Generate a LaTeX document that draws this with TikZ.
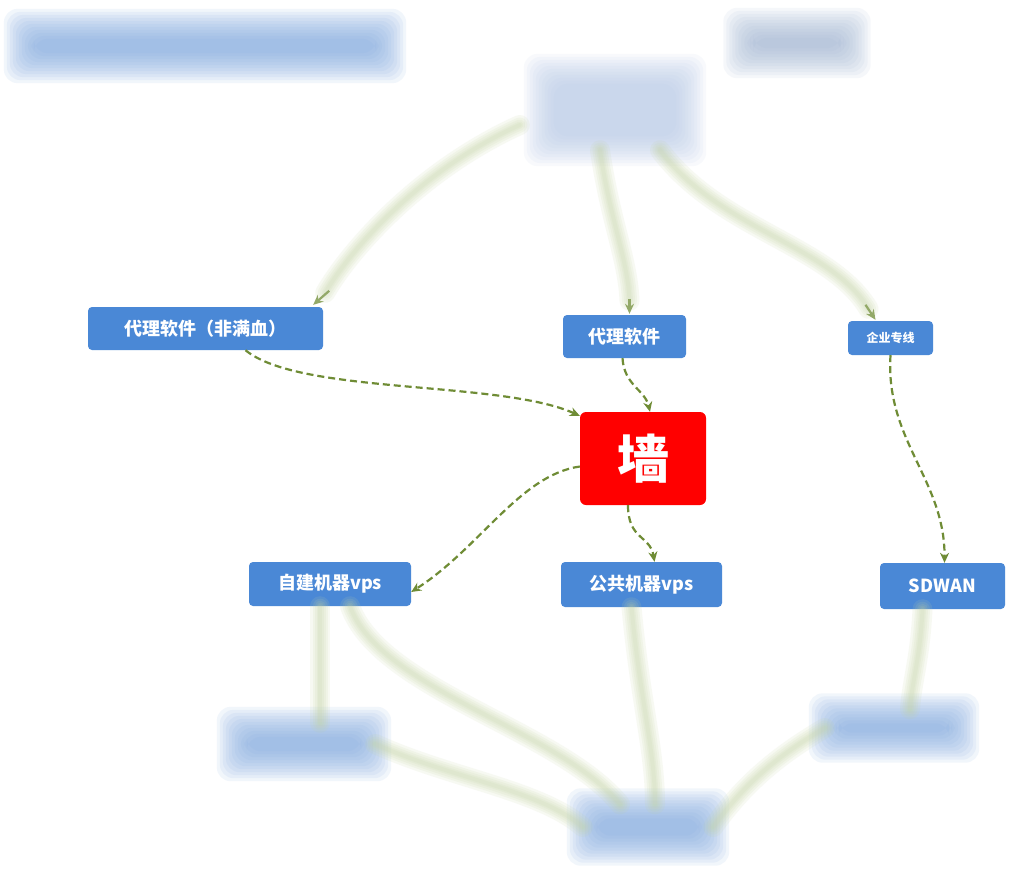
\documentclass[tikz,border=0pt]{standalone}
\usepackage{fontspec}
\newfontfamily\cjk{Noto Sans CJK SC}
\usetikzlibrary{arrows.meta,calc}
\definecolor{nodeblue}{HTML}{4A88D6}
\definecolor{wallred}{HTML}{FF0000}
\definecolor{dashgreen}{HTML}{6F8C35}
\definecolor{softgreen}{HTML}{C3D3A2}
\definecolor{softblue}{HTML}{7FA7E0}
\definecolor{softgrey}{HTML}{9AAED0}
\definecolor{softpale}{HTML}{B3C7E6}
\newcommand\softbox[6]{%
  \node[minimum width=#3pt, minimum height=#4pt, inner sep=0pt] (#1) at (#2) {};
  \foreach \d in {16,13,10,7,4,1,-2,-5,-8,-11,-14}{%
    \pgfmathsetmacro\nd{-\d}%
    \fill[#5, opacity=#6, rounded corners=14pt]
      ([shift={(\nd pt,\nd pt)}]#1.south west) rectangle ([shift={(\d pt,\d pt)}]#1.north east);
  }%
}
\newcommand\softpath[1]{%
  \foreach \w in {20,15,11,7,4}{%
    \draw[softgreen, opacity=0.13, line width=\w pt, line cap=round] #1;
  }%
}
\tikzset{
  bluebox/.style={fill=nodeblue, rounded corners=4pt, text=white, inner sep=0pt,
    font=\cjk\bfseries\fontsize{18pt}{21pt}\selectfont},
  wallbox/.style={fill=wallred, rounded corners=6pt, text=white, inner sep=0pt,
    minimum width=126pt, minimum height=93pt, font=\cjk\bfseries\fontsize{52pt}{58pt}\selectfont},
  dashedge/.style={dashgreen, line width=2.2pt, dash pattern=on 7pt off 4pt,
    -{Stealth[length=10pt,width=9pt]}},
  tipedge/.style={dashgreen!75, line width=2.2pt, -{Stealth[length=10pt,width=9pt]}}
}
\begin{document}
\begin{tikzpicture}[x=1pt,y=-1pt]
\useasboundingbox (0,0) rectangle (1024,870);
\fill[white] (0,0) rectangle (1024,870);

% soft (blurred) boxes
\softbox{title}{205,46}{370}{42}{softblue}{0.10}
\softbox{tr}{797,43}{115}{38}{softgrey}{0.09}
\softbox{tc}{615,110}{150}{80}{softpale}{0.09}
\softbox{bl}{304,744}{142}{42}{softblue}{0.10}
\softbox{bc}{648,827}{130}{45}{softblue}{0.10}
\softbox{br}{894,728}{138}{37}{softblue}{0.10}

% sharp nodes
\node[bluebox, minimum width=235pt, minimum height=43pt] (A) at (205.5,328.5) {代理软件（非满血）};
\node[bluebox, minimum width=123pt, minimum height=43pt] (B) at (624.5,336.5) {代理软件};
\node[bluebox, minimum width=85pt, minimum height=34pt, font=\cjk\bfseries\fontsize{12pt}{14pt}\selectfont] (C) at (890.5,338) {企业专线};
\node[wallbox] (W) at (643,458.5) {墙};
\node[bluebox, minimum width=162pt, minimum height=44pt] (D) at (330,584) {自建机器vps};
\node[bluebox, minimum width=161pt, minimum height=45pt] (E) at (641.5,584.5) {公共机器vps};
\node[bluebox, minimum width=125pt, minimum height=46pt] (F) at (942.5,586) {SDWAN};

% soft edges from the top node
\softpath{([shift={(-20pt,-15pt)}]tc.west) .. controls (420,170) and (350,250) .. ([shift={(2pt,14pt)}]A.north east)}
\draw[tipedge] ([shift={(6pt,16pt)}]A.north east) -- ([shift={(-10pt,2pt)}]A.north east);
\softpath{([xshift=-15pt]tc.south) .. controls (610,220) and (628,260) .. ([shift={(5pt,14pt)}]B.north)}
\draw[tipedge] ([shift={(5pt,16pt)}]B.north) -- ([shift={(5pt,1pt)}]B.north);
\softpath{([xshift=45pt]tc.south) .. controls (720,230) and (830,245) .. ([shift={(-22pt,12pt)}]C.north)}
\draw[tipedge] ([shift={(-25pt,16pt)}]C.north) -- ([shift={(-15pt,1pt)}]C.north);

% soft edges at the bottom
\softpath{([xshift=-10pt]D.south) -- ([xshift=16pt]bl.north)}
\softpath{([xshift=20pt]D.south) .. controls (380,690) and (560,730) .. ([xshift=-28pt]bc.north)}
\softpath{([xshift=-10pt]E.south) .. controls (640,700) and (655,750) .. ([xshift=7pt]bc.north)}
\softpath{([xshift=-20pt]F.south) .. controls (920,660) and (912,680) .. ([xshift=16pt]br.north)}
\softpath{(br.west) .. controls (770,760) and (740,790) .. (bc.east)}
\softpath{(bl.east) .. controls (450,778) and (540,790) .. (bc.west)}

% dashed edges
\draw[dashedge] ([xshift=40pt]A.south) .. controls (300,395) and (500,380) .. ([yshift=-4pt]W.north west);
\draw[dashedge] ([xshift=-2pt]B.south) .. controls (624,385) and (645,390) .. ([xshift=7pt]W.north);
\draw[dashedge] (C.south) .. controls (885,440) and (945,480) .. ([xshift=2pt]F.north);
\draw[dashedge] ([yshift=-8pt]W.west) .. controls (520,475) and (480,548) .. ([yshift=-8pt]D.east);
\draw[dashedge] ([xshift=-15pt]W.south) .. controls (628,540) and (650,535) .. ([xshift=13pt]E.north);
\end{tikzpicture}
\end{document}
